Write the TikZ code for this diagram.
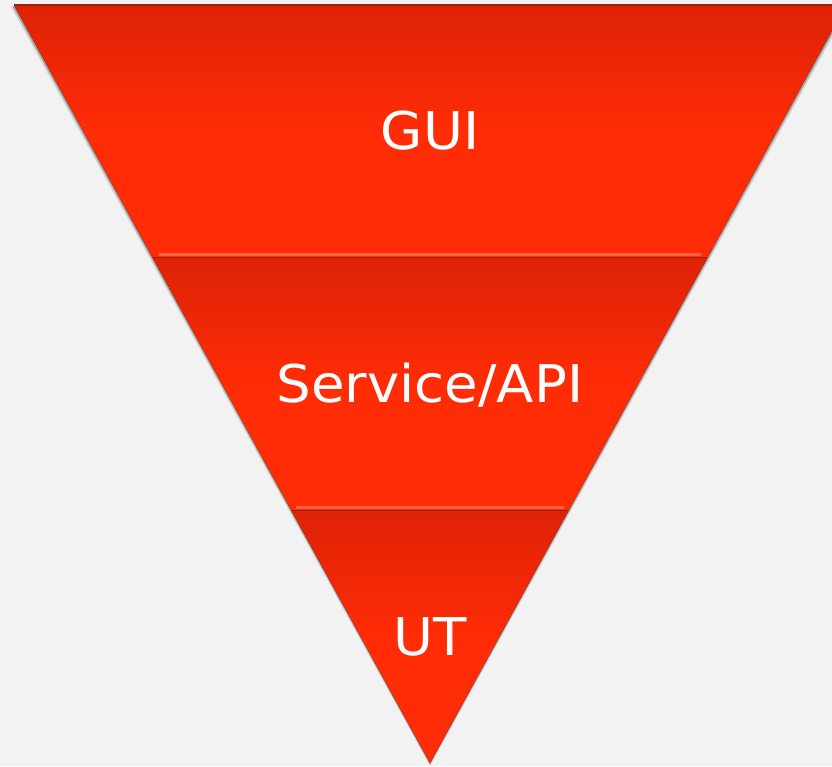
\documentclass[tikz,border=0pt]{standalone}
\usepackage{fontspec}
\setmainfont{DejaVu Sans}[FakeStretch=1.05]
\usepackage{xcolor}
\usepackage{tikz}
\usetikzlibrary{positioning}
\usetikzlibrary{calc}

\definecolor{paper}{RGB}{242,242,242}
\definecolor{redtop}{RGB}{222,34,6}
\definecolor{redbot}{RGB}{255,44,6}
\definecolor{redglow}{RGB}{255,104,70}
\definecolor{reddark}{RGB}{160,30,12}

\tikzset{
  band/.style={top color=redtop,bottom color=redbot,middle color=redbot},
  glow/.style={draw=redglow,line width=2.5pt,opacity=0.9},
  seam/.style={draw=reddark,line width=1.4pt},
  label/.style={text=white,anchor=base,font=\fontsize{52}{60}\selectfont}
}

\begin{document}
\begin{tikzpicture}[x=1pt,y=1pt]
  \fill[paper] (0,0) rectangle (832,766);
  \useasboundingbox (0,0) rectangle (832,766);
  \clip (0,0) rectangle (832,766);
  \coordinate (TopL) at (14,761);
  \coordinate (TopR) at (846,761);
  \coordinate (Apex) at (430,3);
  \coordinate (MidL) at ($(TopL)!1/3!(Apex)$);
  \coordinate (MidR) at ($(TopR)!1/3!(Apex)$);
  \coordinate (LowL) at ($(TopL)!2/3!(Apex)$);
  \coordinate (LowR) at ($(TopR)!2/3!(Apex)$);
  % shadow
  \fill[black,opacity=0.12] ($(TopL)+(-3,-2)$) -- ($(TopR)+(3,-2)$) -- ($(Apex)+(0,-3)$) -- cycle;
  \fill[black,opacity=0.25] ($(TopL)+(-1.5,-1)$) -- ($(TopR)+(1.5,-1)$) -- ($(Apex)+(0,-1.5)$) -- cycle;
  % bands
  \fill[band] (TopL) -- (TopR) -- (MidR) -- (MidL) -- cycle;
  \fill[band] (MidL) -- (MidR) -- (LowR) -- (LowL) -- cycle;
  \fill[band] (LowL) -- (LowR) -- (Apex) -- cycle;
  \draw[draw=reddark,line width=1.5pt] (TopL) -- (TopR);
  \draw[glow] ($(MidL)+(6,3)$) -- ($(MidR)+(-6,3)$);
  \draw[seam] ($(MidL)+(1,0)$) -- ($(MidR)+(-1,0)$);
  \draw[glow] ($(LowL)+(5,3)$) -- ($(LowR)+(-5,3)$);
  \draw[seam] ($(LowL)+(1,0)$) -- ($(LowR)+(-1,0)$);
  % labels
  \node[label] (GUI) at (430,616) {GUI};
  \node[label] (Service) at (430,363) {Service/API};
  \node[label] (UT) at (430,111) {UT};
\end{tikzpicture}
\end{document}
